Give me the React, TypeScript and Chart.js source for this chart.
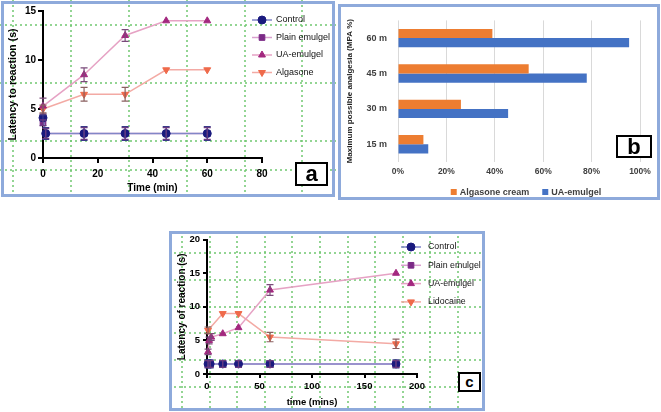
import React, { useEffect, useRef } from 'react';
import { Chart, registerables } from 'chart.js';
import { drawPoint } from 'chart.js/helpers';

Chart.register(...registerables);

const FONT = '"Liberation Sans", Arial, sans-serif';

// ---------- Panel a data ----------
const seriesNamesA = ['Control', 'Plain emulgel', 'UA-emulgel', 'Algasone'];
const timeA_base = [0, 1, 15, 30, 45, 60];
const controlA = [4.1, 2.5, 2.5, 2.5, 2.5, 2.5];
const controlAErr = [0.3, 0.6, 0.7, 0.7, 0.7, 0.7];
const plainA = [3.6, 2.5, 2.5, 2.5, 2.5, 2.5];
const plainAErr = [0.3, 0.5, 0.6, 0.6, 0.6, 0.6];
const timeA_treat = [0, 15, 30, 45, 60];
const uaA = [5.3, 8.5, 12.5, 14, 14];
const uaAErr = [0.8, 0.7, 0.6, 0, 0];
const algasoneA = [5.0, 6.5, 6.5, 9, 9];
const algasoneAErr = [0.4, 0.7, 0.7, 0, 0];

// ---------- Panel b data ----------
const mpaCategories = ['60 m', '45 m', '30 m', '15 m'];
const mpaSeriesNames = ['Algasone cream', 'UA-emulgel'];
const algasoneCreamMPA = [39, 54, 26, 10.5];
const uaEmulgelMPA = [95.5, 78, 45.5, 12.5];

// ---------- Panel c data ----------
const seriesNamesC = ['Control', 'Plain emulgel', 'UA-emulgel', 'Lidocaine'];
const timeC_base = [1, 3, 15, 30, 60, 180];
const controlC = [1.5, 1.5, 1.5, 1.5, 1.5, 1.5];
const controlCErr = [0.6, 0.6, 0.5, 0.5, 0.5, 0.6];
const plainC = [1.5, 1.5, 1.5, 1.5, 1.5, 1.5];
const plainCErr = [0.5, 0.5, 0.5, 0.5, 0.5, 0.5];
const timeC_ua = [1, 2, 4, 15, 30, 60, 180];
const uaC = [3.3, 5.0, 5.5, 6.0, 6.9, 12.5, 15.0];
const uaCErr = [0.4, 0.5, 0.5, 0, 0, 0.8, 0];
const timeC_lido = [1, 15, 30, 60, 180];
const lidoC = [6.5, 9.0, 9.0, 5.5, 4.5];
const lidoCErr = [0.5, 0, 0, 0.7, 0.7];

// ---------- helpers ----------
function lineDs(label: string, xs: number[], ys: number[], errs: number[], line: string, fill: string, style: string, rot: number, errColor: string) {
  return {
    label,
    data: xs.map((x, i) => ({ x, y: ys[i] })),
    errors: errs,
    errorColor: errColor,
    borderColor: line,
    backgroundColor: fill,
    pointBackgroundColor: fill,
    pointBorderColor: fill,
    pointStyle: style,
    pointRotation: rot,
    pointRadius: 4,
    pointBorderWidth: 1,
    borderWidth: 1.5,
    tension: 0,
    clip: false,
  };
}

function dottedGrid(xs: number[], ys: number[]) {
  return {
    id: 'dottedGrid',
    beforeDraw(chart: any) {
      const ctx = chart.ctx;
      ctx.save();
      ctx.fillStyle = '#ffffff';
      ctx.fillRect(0, 0, chart.width, chart.height);
      ctx.strokeStyle = '#70c870';
      ctx.lineWidth = 1.5;
      ctx.setLineDash([2, 3]);
      xs.forEach((x) => {
        ctx.beginPath();
        ctx.moveTo(x, 0);
        ctx.lineTo(x, chart.height);
        ctx.stroke();
      });
      ys.forEach((y) => {
        ctx.beginPath();
        ctx.moveTo(0, y);
        ctx.lineTo(chart.width, y);
        ctx.stroke();
      });
      ctx.restore();
    },
  };
}

const errorBars = {
  id: 'errorBars',
  afterDatasetsDraw(chart: any) {
    const ctx = chart.ctx;
    ctx.save();
    chart.data.datasets.forEach((ds: any, i: number) => {
      if (!ds.errors) return;
      const meta = chart.getDatasetMeta(i);
      const yScale = chart.scales[meta.yAxisID];
      meta.data.forEach((pt: any, j: number) => {
        const e = ds.errors[j];
        if (!e) return;
        const v = ds.data[j].y;
        const yT = yScale.getPixelForValue(v + e);
        const yB = yScale.getPixelForValue(v - e);
        ctx.strokeStyle = ds.errorColor;
        ctx.lineWidth = 1.2;
        ctx.beginPath();
        ctx.moveTo(pt.x, yT);
        ctx.lineTo(pt.x, yB);
        ctx.moveTo(pt.x - 3.5, yT);
        ctx.lineTo(pt.x + 3.5, yT);
        ctx.moveTo(pt.x - 3.5, yB);
        ctx.lineTo(pt.x + 3.5, yB);
        ctx.stroke();
      });
    });
    ctx.restore();
  },
};

function lineLegend(sx: number, tx: number, y0: number, dy: number, size: number) {
  return {
    id: 'lineLegend',
    afterDraw(chart: any) {
      const ctx = chart.ctx;
      ctx.save();
      chart.data.datasets.forEach((ds: any, i: number) => {
        const y = y0 + dy * i;
        ctx.setLineDash([]);
        ctx.strokeStyle = ds.borderColor;
        ctx.lineWidth = 1.5;
        ctx.beginPath();
        ctx.moveTo(sx - 10, y);
        ctx.lineTo(sx + 10, y);
        ctx.stroke();
        ctx.fillStyle = ds.pointBackgroundColor;
        ctx.strokeStyle = ds.pointBorderColor;
        ctx.lineWidth = 1;
        drawPoint(ctx, { pointStyle: ds.pointStyle, rotation: ds.pointRotation || 0, radius: ds.pointRadius, borderWidth: 1 }, sx, y);
        ctx.fillStyle = '#111';
        ctx.font = `${size}px ${FONT}`;
        ctx.textAlign = 'left';
        ctx.textBaseline = 'middle';
        ctx.fillText(ds.label, tx, y);
      });
      ctx.restore();
    },
  };
}

function barLegend(cx: number, y: number, size: number) {
  return {
    id: 'barLegend',
    afterDraw(chart: any) {
      const ctx = chart.ctx;
      ctx.save();
      ctx.font = `bold ${size}px ${FONT}`;
      const sq = 6, gap = 3, itemGap = 13;
      const widths = chart.data.datasets.map((ds: any) => sq + gap + ctx.measureText(ds.label).width);
      const total = widths.reduce((a: number, b: number) => a + b, 0) + itemGap * (widths.length - 1);
      let x = cx - total / 2;
      chart.data.datasets.forEach((ds: any, i: number) => {
        ctx.fillStyle = ds.backgroundColor;
        ctx.fillRect(x, y - sq / 2, sq, sq);
        ctx.fillStyle = '#404040';
        ctx.textAlign = 'left';
        ctx.textBaseline = 'middle';
        ctx.fillText(ds.label, x + sq + gap, y + 0.5);
        x += widths[i] + itemGap;
      });
      ctx.restore();
    },
  };
}

function axisFont(size: number, bold = true) {
  return { family: FONT, size, weight: bold ? 'bold' : 'normal' } as any;
}

const App = () => {
  const refA = useRef<HTMLCanvasElement>(null);
  const refB = useRef<HTMLCanvasElement>(null);
  const refC = useRef<HTMLCanvasElement>(null);

  useEffect(() => {
    const charts: any[] = [];

    // ----- Panel a -----
    charts.push(
      new Chart(refA.current as HTMLCanvasElement, {
        type: 'line',
        data: {
          datasets: [
            lineDs(seriesNamesA[0], timeA_base, controlA, controlAErr, '#8286c8', '#1a1a7e', 'circle', 0, '#3a3a88'),
            lineDs(seriesNamesA[1], timeA_base, plainA, plainAErr, '#d9a0cf', '#7b2a86', 'rect', 0, '#6a3a80'),
            lineDs(seriesNamesA[2], timeA_treat, uaA, uaAErr, '#e6a2c4', '#a3287f', 'triangle', 0, '#7a4a7a'),
            lineDs(seriesNamesA[3], timeA_treat, algasoneA, algasoneAErr, '#f3aaa4', '#ef6a4a', 'triangle', 180, '#8a6060'),
          ] as any,
        },
        options: {
          animation: false,
          responsive: false,
          layout: { padding: { left: 3, right: 74, top: 11, bottom: 3 } },
          plugins: { legend: { display: false }, tooltip: { enabled: false } },
          scales: {
            x: {
              type: 'linear',
              min: 0,
              max: 80,
              ticks: { stepSize: 20, color: '#000', font: axisFont(10), padding: 5, maxRotation: 0 },
              grid: { drawOnChartArea: false, drawTicks: true, tickLength: 5, color: '#000', lineWidth: 2 },
              border: { display: true, color: '#000', width: 2 },
              title: { display: true, text: 'Time (min)', color: '#000', font: axisFont(10), padding: { top: 0, bottom: 0 } },
              afterFit: (s: any) => { s.height = 36; },
            },
            y: {
              min: 0,
              max: 15,
              ticks: { stepSize: 5, color: '#000', font: axisFont(10), padding: 2 },
              grid: { drawOnChartArea: false, drawTicks: true, tickLength: 5, color: '#000', lineWidth: 2 },
              border: { display: true, color: '#000', width: 2 },
              title: { display: true, text: 'Latency to reaction (s)', color: '#000', font: axisFont(10.5), padding: { top: 4, bottom: 0 } },
              afterFit: (s: any) => { s.width = 40; },
            },
          },
        } as any,
        plugins: [dottedGrid([13, 71, 129, 187, 245, 302], [25, 83, 141, 170]), errorBars, lineLegend(262, 276, 20, 17.5, 9)],
      })
    );

    // ----- Panel b -----
    charts.push(
      new Chart(refB.current as HTMLCanvasElement, {
        type: 'bar',
        data: {
          labels: mpaCategories,
          datasets: [
            { label: mpaSeriesNames[0], data: algasoneCreamMPA, backgroundColor: '#ED7D31', categoryPercentage: 0.52, barPercentage: 1 },
            { label: mpaSeriesNames[1], data: uaEmulgelMPA, backgroundColor: '#4472C4', categoryPercentage: 0.52, barPercentage: 1 },
          ],
        },
        options: {
          indexAxis: 'y',
          animation: false,
          responsive: false,
          layout: { padding: { left: 2, right: 20, top: 6, bottom: 18 } },
          plugins: { legend: { display: false }, tooltip: { enabled: false } },
          scales: {
            x: {
              min: 0,
              max: 100,
              ticks: { stepSize: 20, color: '#404040', font: axisFont(8.5), padding: 5, callback: (v: any) => v + '%' },
              grid: { color: '#d9d9d9', lineWidth: 1, drawTicks: false },
              border: { display: false },
              afterFit: (s: any) => { s.height = 20; },
            },
            y: {
              ticks: { color: '#404040', font: axisFont(9), padding: 11 },
              grid: { display: true, drawOnChartArea: false, drawTicks: false },
              border: { display: false },
              title: { display: true, text: 'Maximum possible analgesia (MPA %)', color: '#222', font: axisFont(8), padding: { top: 5, bottom: 0 } },
              afterFit: (s: any) => { s.width = 58; },
            },
          },
        } as any,
        plugins: [barLegend(188, 188, 9)],
      })
    );

    // ----- Panel c -----
    charts.push(
      new Chart(refC.current as HTMLCanvasElement, {
        type: 'line',
        data: {
          datasets: [
            lineDs(seriesNamesC[0], timeC_base, controlC, controlCErr, '#8286c8', '#1a1a7e', 'circle', 0, '#3a3a88'),
            lineDs(seriesNamesC[1], timeC_base, plainC, plainCErr, '#d9a0cf', '#7b2a86', 'rect', 0, '#6a3a80'),
            lineDs(seriesNamesC[2], timeC_ua, uaC, uaCErr, '#e6a2c4', '#a3287f', 'triangle', 0, '#7a4a7a'),
            lineDs(seriesNamesC[3], timeC_lido, lidoC, lidoCErr, '#f3aaa4', '#ef6a4a', 'triangle', 180, '#8a6060'),
          ] as any,
        },
        options: {
          animation: false,
          responsive: false,
          layout: { padding: { left: 2, right: 68, top: 8, bottom: 3 } },
          plugins: { legend: { display: false }, tooltip: { enabled: false } },
          scales: {
            x: {
              type: 'linear',
              min: 0,
              max: 200,
              ticks: { stepSize: 50, color: '#000', font: axisFont(9.5), padding: 3, maxRotation: 0 },
              grid: { drawOnChartArea: false, drawTicks: true, tickLength: 4, color: '#000', lineWidth: 2 },
              border: { display: true, color: '#000', width: 2 },
              title: { display: true, text: 'time (mins)', color: '#000', font: axisFont(9.5), padding: { top: 0, bottom: 0 } },
              afterFit: (s: any) => { s.height = 34; },
            },
            y: {
              min: 0,
              max: 20,
              ticks: { stepSize: 5, color: '#000', font: axisFont(9.5), padding: 3 },
              grid: { drawOnChartArea: false, drawTicks: true, tickLength: 4, color: '#000', lineWidth: 2 },
              border: { display: true, color: '#000', width: 2 },
              title: { display: true, text: 'Latency of reaction (s)', color: '#000', font: axisFont(10), padding: { top: 5, bottom: 0 } },
              afterFit: (s: any) => { s.width = 36; },
            },
          },
        } as any,
        plugins: [
          dottedGrid([13, 41, 68, 96, 123, 151, 179, 206, 234, 261, 289], [22, 49, 76, 102, 129, 156]),
          errorBars,
          lineLegend(242, 259, 16, 18.3, 8.8),
        ],
      })
    );

    return () => charts.forEach((c) => c.destroy());
  }, []);

  const frame = (left: number, top: number, width: number, height: number): React.CSSProperties => ({
    position: 'absolute',
    left,
    top,
    width,
    height,
    boxSizing: 'border-box',
    border: '3px solid #8eaadb',
    pointerEvents: 'none',
  });

  const tag = (left: number, top: number, width: number, height: number, size: number): React.CSSProperties => ({
    position: 'absolute',
    left,
    top,
    width,
    height,
    boxSizing: 'border-box',
    border: '2px solid #000',
    background: '#fff',
    fontFamily: FONT,
    fontWeight: 'bold',
    fontSize: size,
    lineHeight: `${height - 4}px`,
    textAlign: 'center',
    color: '#000',
  });

  return (
    <div style={{ position: 'absolute', left: 0, top: 0, width: 661, height: 412, background: '#fff', overflow: 'hidden' }}>
      <canvas ref={refA} width={336} height={197} style={{ position: 'absolute', left: 0, top: 0, width: 336, height: 197 }} />
      <canvas ref={refB} width={322} height={196} style={{ position: 'absolute', left: 338, top: 4, width: 322, height: 196 }} />
      <canvas ref={refC} width={316} height={180} style={{ position: 'absolute', left: 169, top: 231, width: 316, height: 180 }} />
      <div style={frame(1, 1, 334, 196)} />
      <div style={frame(338, 4, 322, 196)} />
      <div style={frame(169, 231, 316, 180)} />
      <div style={tag(295, 162, 33, 24, 22)}>a</div>
      <div style={tag(616, 135, 36, 23, 22)}>b</div>
      <div style={tag(458, 372, 23, 20, 15)}>c</div>
    </div>
  );
};

export default App;
